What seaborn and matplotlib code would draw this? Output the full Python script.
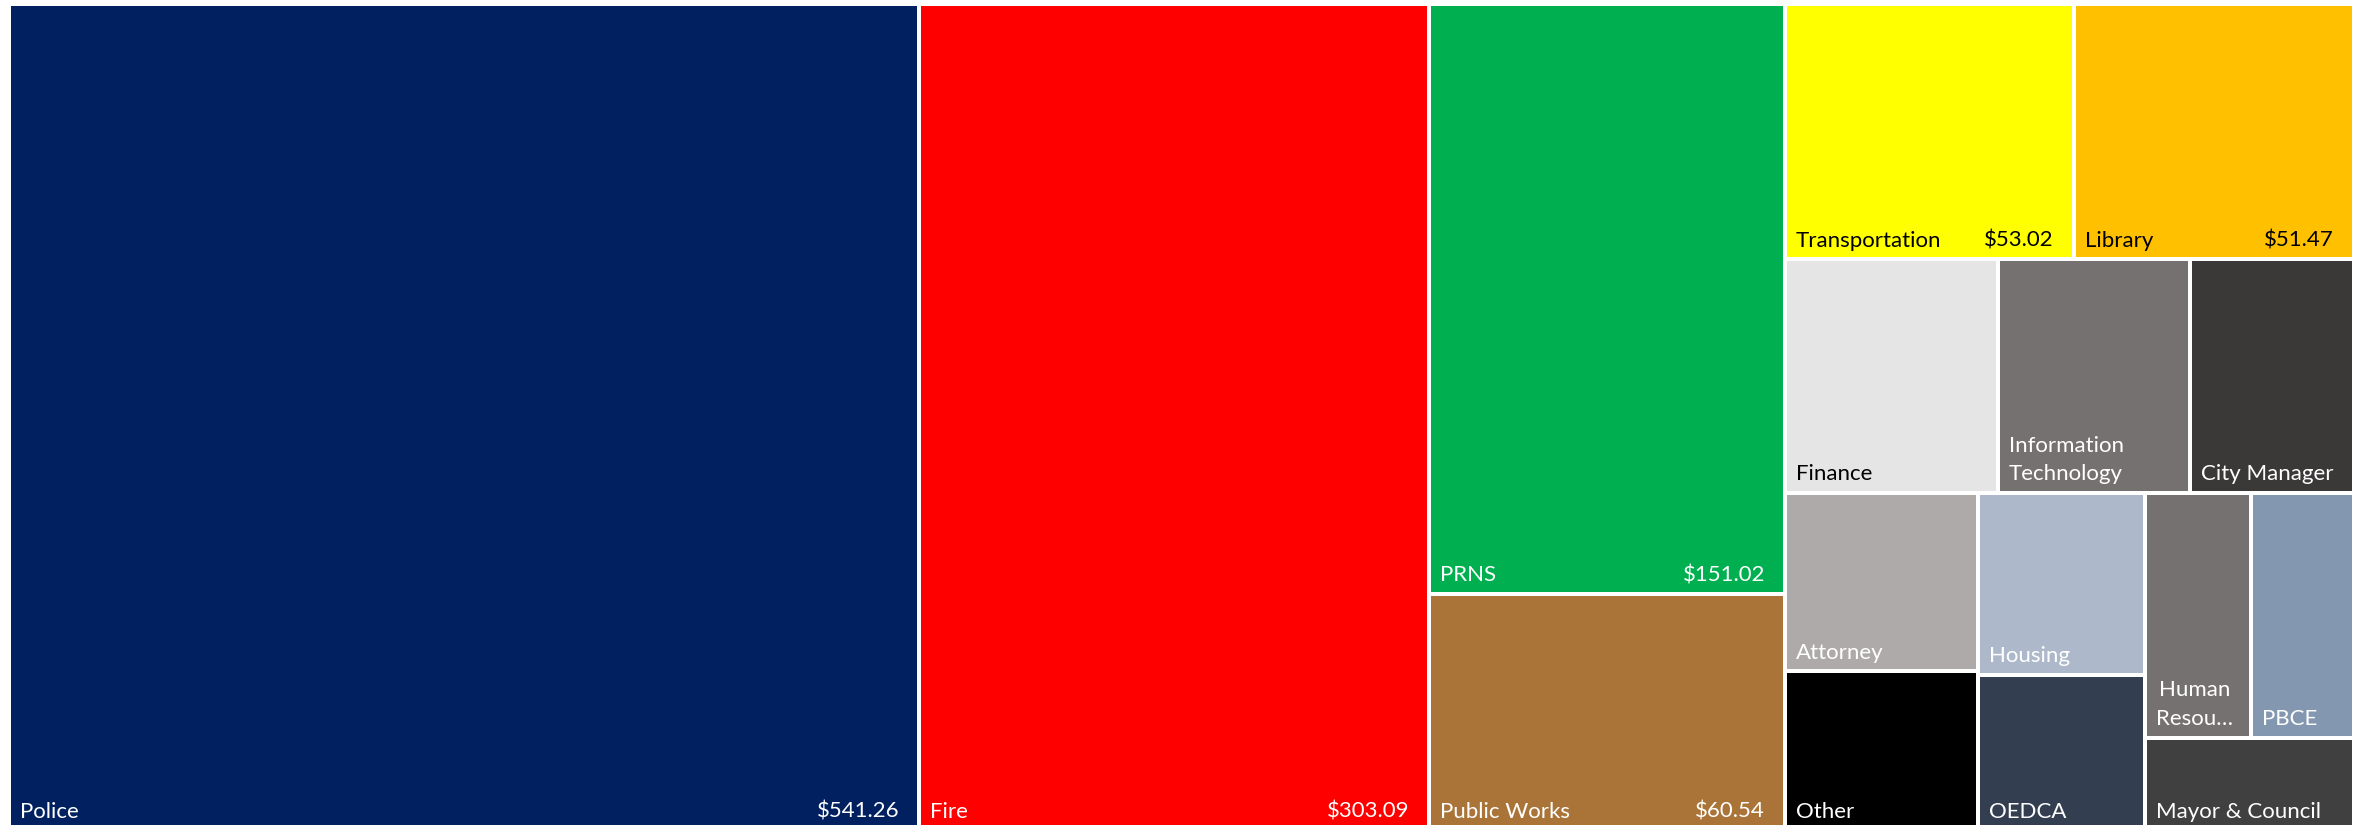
import matplotlib
matplotlib.use("Agg")
import matplotlib.pyplot as plt
import seaborn as sns
import pandas as pd

# ---------------- data ----------------
departments = ["Police", "Fire", "PRNS", "Public Works", "Transportation", "Library",
               "Finance", "Information Technology", "City Manager", "Attorney", "Other",
               "Housing", "OEDCA", "Human Resources", "PBCE", "Mayor & Council"]
spending = [541.26, 303.09, 151.02, 60.54, 53.02, 51.47,
            35.8, 32.4, 27.5, 24.8, 22.0,
            21.9, 18.7, 18.6, 18.2, 13.9]
tile_labels = ["Police", "Fire", "PRNS", "Public Works", "Transportation", "Library",
               "Finance", "Information\nTechnology", "City Manager", "Attorney", "Other",
               "Housing", "OEDCA", "Human\nResou\u2026", "PBCE", "Mayor & Council"]
value_labels = ["$541.26", "$303.09", "$151.02", "$60.54", "$53.02", "$51.47",
                "", "", "", "", "", "", "", "", "", ""]
tile_colors = ["#002060", "#FF0000", "#00B050", "#AA7439", "#FFFF00", "#FFC000",
               "#E5E5E5", "#767171", "#3B3838", "#AEAAAA", "#000000",
               "#ADB9CA", "#333F50", "#767171", "#8497B0", "#404040"]
text_colors = ["white", "white", "white", "white", "black", "black",
               "black", "white", "white", "white", "white",
               "white", "white", "white", "white", "white"]

df = pd.DataFrame({"dept": departments, "value": spending, "label": tile_labels,
                   "vlabel": value_labels, "color": tile_colors, "tcolor": text_colors})
df = df.sort_values("value", ascending=False, kind="stable").reset_index(drop=True)


def squarify(values, x0, y0, x1, y1, ratio):
    """Squarified treemap layout (d3 style); returns (x, y, w, h) per value."""
    rects = [None] * len(values)
    n = len(values)
    total = float(sum(values))
    i0 = i1 = 0
    while i0 < n:
        dx, dy = x1 - x0, y1 - y0
        s = values[i1]
        i1 += 1
        mn = mx = s
        alpha = max(dy / dx, dx / dy) / (total * ratio)
        beta = s * s * alpha
        min_ratio = max(mx / beta, beta / mn)
        while i1 < n:
            v = values[i1]
            s2 = s + v
            mn2, mx2 = min(mn, v), max(mx, v)
            beta = s2 * s2 * alpha
            nr = max(mx2 / beta, beta / mn2)
            if nr > min_ratio:
                break
            s, mn, mx, min_ratio = s2, mn2, mx2, nr
            i1 += 1
        if dx < dy:
            yb = y0 + dy * s / total if i1 < n else y1
            xx = x0
            for k in range(i0, i1):
                w = dx * values[k] / s
                rects[k] = (xx, y0, w, yb - y0)
                xx += w
            y0 = yb
        else:
            xb = x0 + dx * s / total if i1 < n else x1
            yy = y0
            for k in range(i0, i1):
                h = dy * values[k] / s
                rects[k] = (x0, yy, xb - x0, h)
                yy += h
            x0 = xb
        total -= s
        i0 = i1
    return rects


# ---------------- figure ----------------
sns.set_theme(style="white")
plt.rcParams["font.family"] = ["Lato", "DejaVu Sans"]

FW, FH, DPI = 2359, 825, 100
W, H = 2345.0, 826.0          # canvas size in pixels
left_px, top_px = 9, 4

fig = plt.figure(figsize=(FW / DPI, FH / DPI), dpi=DPI)
fig.patch.set_facecolor("white")
ax = fig.add_axes([left_px / FW, (FH - top_px - H) / FH, W / FW, H / FH])
ax.set_xlim(0, W)
ax.set_ylim(H, 0)
ax.axis("off")

rects = squarify(list(df["value"]), 0.0, 0.0, W, H, 1.25)
df["x"] = [r[0] for r in rects]
df["y"] = [r[1] for r in rects]
df["w"] = [r[2] for r in rects]
df["h"] = [r[3] for r in rects]

px = 72.0 / DPI
ax.bar(df["x"], df["h"], width=df["w"], bottom=df["y"], align="edge",
       color=df["color"], edgecolor="white", linewidth=4 * px)

FS = 16
for _, r in df.iterrows():
    ax.annotate(r["label"], xy=(r["x"], r["y"] + r["h"]),
                xytext=(11 * px, 8.5 * px), textcoords="offset points",
                ha="left", va="bottom", color=r["tcolor"], fontsize=FS,
                linespacing=1.55,
                multialignment="center" if "Resou" in r["label"] else "left")
    if r["vlabel"]:
        ax.annotate(r["vlabel"], xy=(r["x"] + r["w"], r["y"] + r["h"]),
                    xytext=(-20 * px, 8.5 * px), textcoords="offset points",
                    ha="right", va="bottom", color=r["tcolor"], fontsize=FS)

fig.savefig("out.png", dpi=DPI, facecolor="white")
